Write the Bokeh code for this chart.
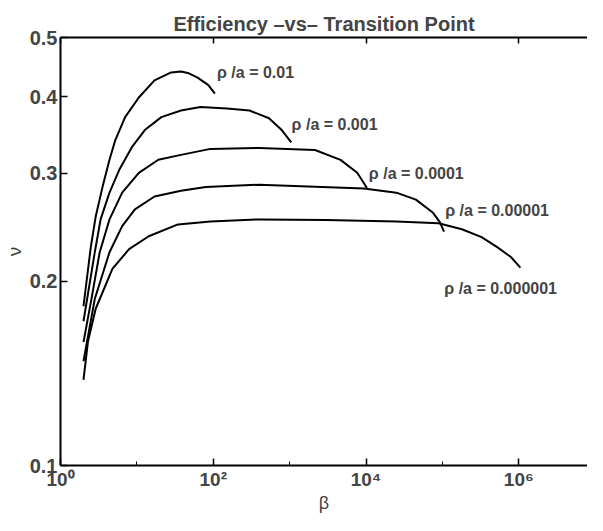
from bokeh.plotting import figure
from bokeh.models import LogAxis, FixedTicker, Range1d, Label
from bokeh.embed import file_html
from bokeh.resources import INLINE

# ---- data (beta, nu) ----
labels = ["ρ /a = 0.01", "ρ /a = 0.001", "ρ /a = 0.0001", "ρ /a = 0.00001", "ρ /a = 0.000001"]

beta_1 = [2.0, 2.5, 2.89, 3.56, 4.38, 5.22, 7.02, 10.6, 17.0, 28.1, 37.8, 48.0, 62.4, 86.3, 105.0]
nu_1 = [0.182, 0.228, 0.255, 0.2854, 0.3157, 0.340, 0.3706, 0.399, 0.4255, 0.4385, 0.440, 0.437, 0.430, 0.418, 0.405]

beta_2 = [2.0, 2.81, 3.35, 4.38, 5.88, 8.6, 12.7, 20.9, 37.8, 68.0, 151.0, 298.0, 537.0, 789.0, 1050.0]
nu_2 = [0.172, 0.223, 0.2523, 0.279, 0.304, 0.331, 0.353, 0.3706, 0.380, 0.385, 0.383, 0.380, 0.369, 0.353, 0.337]

beta_3 = [2.0, 2.6, 3.26, 4.38, 6.42, 10.6, 19.1, 37.8, 91.7, 400.0, 2150.0, 4640.0, 7670.0, 10300.0]
nu_3 = [0.159, 0.19, 0.223, 0.2523, 0.279, 0.3006, 0.3157, 0.3216, 0.3289, 0.330, 0.3275, 0.3156, 0.3006, 0.284]

beta_4 = [2.0, 2.81, 4.38, 6.42, 9.43, 17.0, 37.8, 80.0, 400.0, 9400.0, 24900.0, 45000.0, 74700.0, 93000.0, 105000.0]
nu_4 = [0.148, 0.187, 0.223, 0.246, 0.262, 0.275, 0.281, 0.285, 0.2875, 0.2834, 0.279, 0.2718, 0.259, 0.2495, 0.241]

beta_5 = [2.0, 2.29, 2.89, 4.78, 7.9, 14.3, 34.5, 91.7, 400.0, 3000.0, 24900.0, 89000.0, 180000.0, 326000.0, 522000.0, 789000.0, 1050000.0]
nu_5 = [0.138, 0.1595, 0.1803, 0.2094, 0.2256, 0.2368, 0.2476, 0.2504, 0.2523, 0.2518, 0.2504, 0.2486, 0.2431, 0.236, 0.2273, 0.219, 0.2105]

label_beta = [112.0, 1061.0, 10900.0, 109000.0, 106000.0]
label_nu = [0.4383, 0.361, 0.2996, 0.261, 0.1944]

y_ticks = [0.1, 0.2, 0.3, 0.4, 0.5]
y_tick_labels = ["0.1", "0.2", "0.3", "0.4", "0.5"]
x_ticks = [1, 100, 10000, 1000000]
x_tick_labels = ["10⁰", "10²", "10⁴", "10⁶"]
x_minor_ticks = [10, 1000, 100000]

FONT = "Liberation Sans"

p = figure(width=587, height=515, x_axis_type="log", y_axis_type="log",
           x_range=Range1d(1, 10 ** 6.9), y_range=Range1d(0.1, 0.5),
           output_backend="svg", toolbar_location=None,
           min_border_left=49, min_border_right=0, min_border_top=37, min_border_bottom=47)

p.outline_line_color = None
p.grid.visible = False
p.background_fill_color = "white"
p.border_fill_color = "white"

p.title.text = "Efficiency –vs– Transition Point"
p.title.align = "center"
p.title.text_font = FONT
p.title.text_font_size = "20px"
p.title.text_font_style = "bold"
p.title.standoff = 6

xa = p.xaxis[0]
xa.ticker = FixedTicker(ticks=x_ticks, minor_ticks=x_minor_ticks)
xa.major_label_overrides = {t: s for t, s in zip(x_ticks, x_tick_labels)}
xa.major_tick_in = 7
xa.major_tick_out = 0
xa.minor_tick_in = 4
xa.minor_tick_out = 0
xa.axis_line_width = 2
xa.major_tick_line_width = 1.5
xa.major_label_text_font = FONT
xa.major_label_text_font_size = "19px"
xa.major_label_text_font_style = "bold"
xa.major_label_standoff = 3
xa.axis_label = "β"
xa.axis_label_text_font = FONT
xa.axis_label_text_font_size = "18px"
xa.axis_label_text_font_style = "normal"
xa.axis_label_standoff = 0

ya = p.yaxis[0]
ya.ticker = FixedTicker(ticks=y_ticks, minor_ticks=[])
ya.major_label_overrides = {t: s for t, s in zip(y_ticks, y_tick_labels)}
ya.major_tick_in = 7
ya.major_tick_out = 0
ya.minor_tick_line_color = None
ya.axis_line_width = 2
ya.major_tick_line_width = 1.5
ya.major_label_text_font = FONT
ya.major_label_text_font_size = "20px"
ya.major_label_text_font_style = "bold"
ya.major_label_standoff = 3
ya.axis_label = "ν"
ya.axis_label_text_font = FONT
ya.axis_label_text_font_size = "19px"
ya.axis_label_text_font_style = "normal"
ya.axis_label_standoff = 2

top = LogAxis(ticker=FixedTicker(ticks=x_ticks, minor_ticks=[]),
              major_tick_in=6, major_tick_out=0, minor_tick_line_color=None,
              major_label_overrides={t: " " for t in x_ticks},
              major_label_text_font_size="2px", major_label_text_alpha=0.0,
              major_label_standoff=0,
              axis_line_width=2, major_tick_line_width=1.5)
p.add_layout(top, "above")

series_b = [beta_1, beta_2, beta_3, beta_4, beta_5]
series_v = [nu_1, nu_2, nu_3, nu_4, nu_5]
for b, v in zip(series_b, series_v):
    p.line(b, v, line_color="black", line_width=2)

for txt, bx, vy in zip(labels, label_beta, label_nu):
    p.add_layout(Label(x=bx, y=vy, text=txt, text_font=FONT, text_font_size="16px",
                       text_font_style="bold", text_baseline="middle", text_align="left"))

open("out.html", "w").write(file_html(p, INLINE))
